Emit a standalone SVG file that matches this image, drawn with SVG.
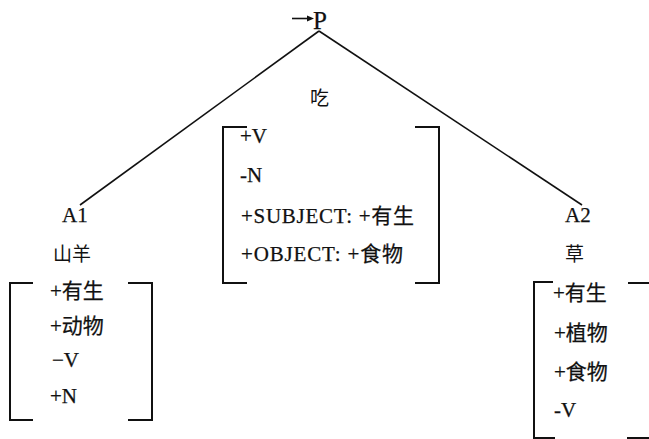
<svg xmlns="http://www.w3.org/2000/svg" width="649" height="439" viewBox="0 0 649 439">
<style>
  .t { font-family: "Liberation Serif", "Noto Sans CJK SC", serif; font-size: 21px; fill: #111; stroke: #111; stroke-width: 0.25; }
  .c { font-family: "Noto Sans CJK SC", "Liberation Serif", sans-serif; font-size: 19px; fill: #111; }
  .p { font-size: 25px; }
  .br { fill: none; stroke: #111; stroke-width: 2; }
  .ln { fill: none; stroke: #111; stroke-width: 1.6; }
</style>
<rect width="649" height="439" fill="#fff"/>
<g id="connectors">
  <line class="ln" x1="319" y1="31" x2="80" y2="205"/>
  <line class="ln" x1="319" y1="31" x2="582" y2="205"/>
</g>
<g id="node-P">
  <line x1="292" y1="18.5" x2="309" y2="18.5" stroke="#111" stroke-width="1.6"/>
  <polygon points="314,18.5 307,15.5 307,21.5" fill="#111"/>
  <text class="t p" x="313" y="29">P</text>
</g>
<g id="node-eat">
  <text class="c" x="310" y="105">吃</text>
  <path class="br" d="M247,127 H223 V283 H247"/>
  <path class="br" d="M415,127 H439 V283 H415"/>
  <text class="t" x="240" y="143">+V</text>
  <text class="t" x="240" y="182">-N</text>
  <text class="t" x="241" y="223" textLength="173" lengthAdjust="spacing">+SUBJECT: +有生</text>
  <text class="t" x="241" y="261" textLength="162" lengthAdjust="spacing">+OBJECT: +食物</text>
</g>
<g id="node-A1">
  <text class="t" x="62" y="222">A1</text>
  <text class="c" x="53" y="261">山羊</text>
  <path class="br" d="M33,283 H10 V420 H33"/>
  <path class="br" d="M128,283 H152 V420 H128"/>
  <text class="t" x="50" y="298">+有生</text>
  <text class="t" x="50" y="333">+动物</text>
  <text class="t" x="52" y="367">−V</text>
  <text class="t" x="50" y="403">+N</text>
</g>
<g id="node-A2">
  <text class="t" x="565" y="222">A2</text>
  <text class="c" x="565" y="261">草</text>
  <path class="br" d="M553,282 H534 V438 H555"/>
  <path class="br" d="M628,283 H652 V438 H627"/>
  <text class="t" x="553" y="300">+有生</text>
  <text class="t" x="554" y="340">+植物</text>
  <text class="t" x="554" y="379">+食物</text>
  <text class="t" x="554" y="417">-V</text>
</g>
</svg>
